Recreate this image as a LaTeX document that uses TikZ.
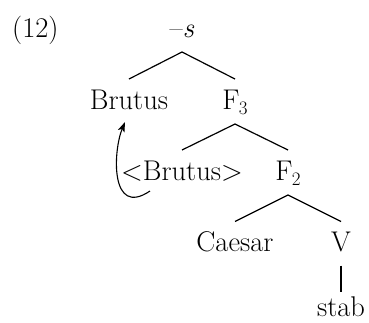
\documentclass[tikz,border=0pt]{standalone}
\usetikzlibrary{arrows.meta}
\newcommand{\mysub}[1]{\kern-0.5pt\raisebox{-5pt}{\fontsize{19}{19}\selectfont #1}}
\begin{document}
\begin{tikzpicture}[x=1pt,y=-1pt,
  lbl/.style={anchor=base,inner sep=0pt,font=\fontsize{28.5}{34}\selectfont},
  br/.style={line width=1.2pt},
  mv/.style={line width=1.1pt,-{Stealth[length=10pt,width=7pt,inset=2.5pt]}}]
\useasboundingbox (0,0) rectangle (369,322);
\node[lbl,anchor=base west] (ex) at (12,37) {(12)};
\node[lbl] (root) at (182,37) {–\textit{s}};
\node[lbl] (brutus) at (129,109) {Brutus};
\node[lbl] (f3) at (235,109) {F\mysub{3}};
\node[lbl] (trace) at (182,180) {<Brutus>};
\node[lbl] (f2) at (288,180) {F\mysub{2}};
\node[lbl] (caesar) at (235,251.5) {Caesar};
\node[lbl] (v) at (341,251.5) {V};
\node[lbl] (stab) at (341,316.5) {stab};
\draw[br] ([shift={(0,-30)}]brutus.base) -- ([shift={(0,15)}]root.base) -- ([shift={(0,-30)}]f3.base);
\draw[br] ([shift={(0,-30)}]trace.base) -- ([shift={(0,15)}]f3.base) -- ([shift={(0,-30)}]f2.base);
\draw[br] ([shift={(0,-30)}]caesar.base) -- ([shift={(0,15)}]f2.base) -- ([shift={(0,-30)}]v.base);
\draw[br] ([shift={(0,14)}]v.base) -- ([shift={(0,-24.5)}]stab.base);
\draw[mv] ([shift={(-32,11)}]trace.base) .. controls +(-40,27) and +(-12,29) .. ([shift={(-4,13)}]brutus.base);
\end{tikzpicture}
\end{document}
